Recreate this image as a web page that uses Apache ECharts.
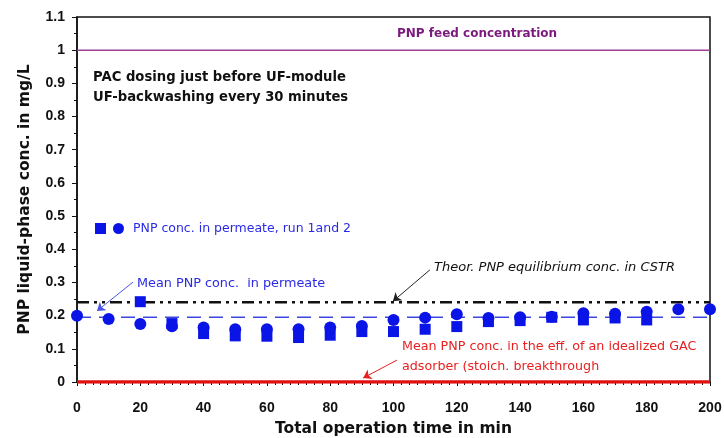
<!DOCTYPE html>
<html><head><meta charset="utf-8">
<script src="https://cdn.jsdelivr.net/npm/echarts@6/dist/echarts.min.js"></script>
<style>html,body{margin:0;padding:0;background:#fff}#c{width:724px;height:438px}</style>
</head><body><div id="c"></div>
<script>
var timeRun2 = [0,10,20,30,40,50,60,70,80,90,100,110,120,130,140,150,160,170,180,190,200];
var concRun2 = [0.200,0.190,0.175,0.168,0.164,0.159,0.159,0.159,0.164,0.169,0.187,0.194,0.204,0.193,0.195,0.197,0.207,0.206,0.212,0.219,0.219];
var timeRun1 = [20,30,40,50,60,70,80,90,100,110,120,130,140,150,160,170,180];
var concRun1 = [0.242,0.176,0.146,0.139,0.138,0.134,0.141,0.152,0.152,0.159,0.167,0.182,0.185,0.195,0.187,0.193,0.187];
var feedConc = 1.0;
var meanPermeate = 0.195;
var theorCSTR = 0.24;
var meanGAC = 0.0;
var xRange = [0, 200];
var yTicks = [0,0.1,0.2,0.3,0.4,0.5,0.6,0.7,0.8,0.9,1,1.1];

function pairs(xs, ys){ return xs.map(function(x,i){return [x, ys[i]];}); }
function hline(v){ return [[xRange[0], v],[xRange[1], v]]; }

var FONT = '"Liberation Sans", Arial, sans-serif';
var WIDE = '"DejaVu Sans", Verdana, sans-serif';
var chart = echarts.init(document.getElementById('c'));
chart.setOption({
  animation: false,
  backgroundColor: '#fff',
  grid: {left: 77, right: 14, top: 17, bottom: 56, show: true, borderColor: '#111', borderWidth: 1.5, outerBoundsMode: 'none', containLabel: false},
  legend: {
    left: 90, top: 217, itemWidth: 11, itemHeight: 11, itemGap: 7,
    data: [{name: 'run1', icon: 'rect'}, {name: 'PNP conc. in permeate, run 1and 2', icon: 'circle'}],
    formatter: function(n){ return n === 'run1' ? '' : n; },
    textStyle: {color: '#2a2ae6', fontSize: 12.5, fontFamily: WIDE, padding: [0,0,0,4]}
  },
  xAxis: {
    type: 'value', min: 0, max: 200, interval: 20,
    name: 'Total operation time in min', nameLocation: 'middle', nameGap: 39,
    nameTextStyle: {fontSize: 15.5, fontWeight: 'bold', color: '#111', fontFamily: WIDE},
    axisLine: {lineStyle: {color: '#111', width: 1.5}},
    axisTick: {show: true, length: 4, lineStyle: {color: '#111'}},
    minorTick: {show: true, splitNumber: 8, length: 3, lineStyle: {color: '#111'}},
    axisLabel: {fontSize: 14, fontWeight: 'bold', color: '#111', margin: 19, fontFamily: FONT},
    splitLine: {show: false}
  },
  yAxis: {
    type: 'value', min: 0, max: 1.1, interval: 0.1,
    name: 'PNP liquid-phase conc. in mg/L', nameLocation: 'middle', nameGap: 44,
    nameTextStyle: {fontSize: 15.5, fontWeight: 'bold', color: '#111', fontFamily: WIDE},
    axisLine: {show: true, lineStyle: {color: '#111', width: 1.5}},
    axisTick: {show: true, length: 5, lineStyle: {color: '#111'}},
    minorTick: {show: true, splitNumber: 2, length: 3, lineStyle: {color: '#111'}},
    axisLabel: {fontSize: 14, fontWeight: 'bold', color: '#111', margin: 12, fontFamily: FONT,
      formatter: function(v){ var r = Math.round(v*10)/10; return yTicks.indexOf(r) >= 0 ? String(r) : ''; }},
    splitLine: {show: false}
  },
  series: [
    {name: 'feed', type: 'line', data: hline(feedConc), symbol: 'none', lineStyle: {color: '#a23d98', width: 1.5}, z: 2},
    {name: 'gac', type: 'line', data: hline(meanGAC), symbol: 'none', lineStyle: {color: '#e01010', width: 3.5}, z: 5},
    {name: 'theor', type: 'line', data: hline(theorCSTR), symbol: 'none', lineStyle: {color: '#111', width: 2.5, type: [12,5,3,5,3,5]}, z: 2},
    {name: 'mean', type: 'line', data: hline(meanPermeate), symbol: 'none', lineStyle: {color: '#3c46e0', width: 1.5, type: [14,8]}, z: 2},
    {name: 'run1', type: 'scatter', data: pairs(timeRun1, concRun1), symbol: 'rect', symbolSize: 11, itemStyle: {color: '#0a14e6', opacity: 1}, z: 4},
    {name: 'PNP conc. in permeate, run 1and 2', type: 'scatter', data: pairs(timeRun2, concRun2), symbol: 'circle', symbolSize: 12, itemStyle: {color: '#0a14e6', opacity: 1}, z: 4},
    {name: 'arrows', type: 'line', data: [], markLine: {
      silent: true, symbol: ['none','arrow'], symbolSize: 8, label: {show: false},
      data: [
        [{coord: [17.7, 0.301], lineStyle: {color: '#4a55e6', width: 1, type: 'solid'}}, {coord: [6.3, 0.214]}],
        [{coord: [111.5, 0.338], lineStyle: {color: '#222', width: 1, type: 'solid'}}, {coord: [99.8, 0.243]}],
        [{coord: [101.1, 0.066], lineStyle: {color: '#e82020', width: 1, type: 'solid'}}, {coord: [90.4, 0.012]}]
      ]
    }, z: 6}
  ],
  graphic: [
    {type: 'text', left: 397, top: 28, style: {text: 'PNP feed concentration', fill: '#7a1a7e', font: 'bold 12px ' + WIDE}},
    {type: 'text', left: 93, top: 68, style: {text: 'PAC dosing just before UF-module\nUF-backwashing every 30 minutes', fill: '#111', font: 'bold 13.2px ' + WIDE, lineHeight: 20}},
    {type: 'text', left: 137, top: 277, style: {text: 'Mean PNP conc.  in permeate', fill: '#2a2ae6', font: '12.8px ' + WIDE}},
    {type: 'text', left: 434, top: 261, style: {text: 'Theor. PNP equilibrium conc. in CSTR', fill: '#111', font: 'italic 13px ' + WIDE}},
    {type: 'text', left: 402, top: 337, style: {text: 'Mean PNP conc. in the eff. of an idealized GAC\nadsorber (stoich. breakthrough', fill: '#e82020', font: '12.7px ' + WIDE, lineHeight: 20}}
  ]
});
</script></body></html>
